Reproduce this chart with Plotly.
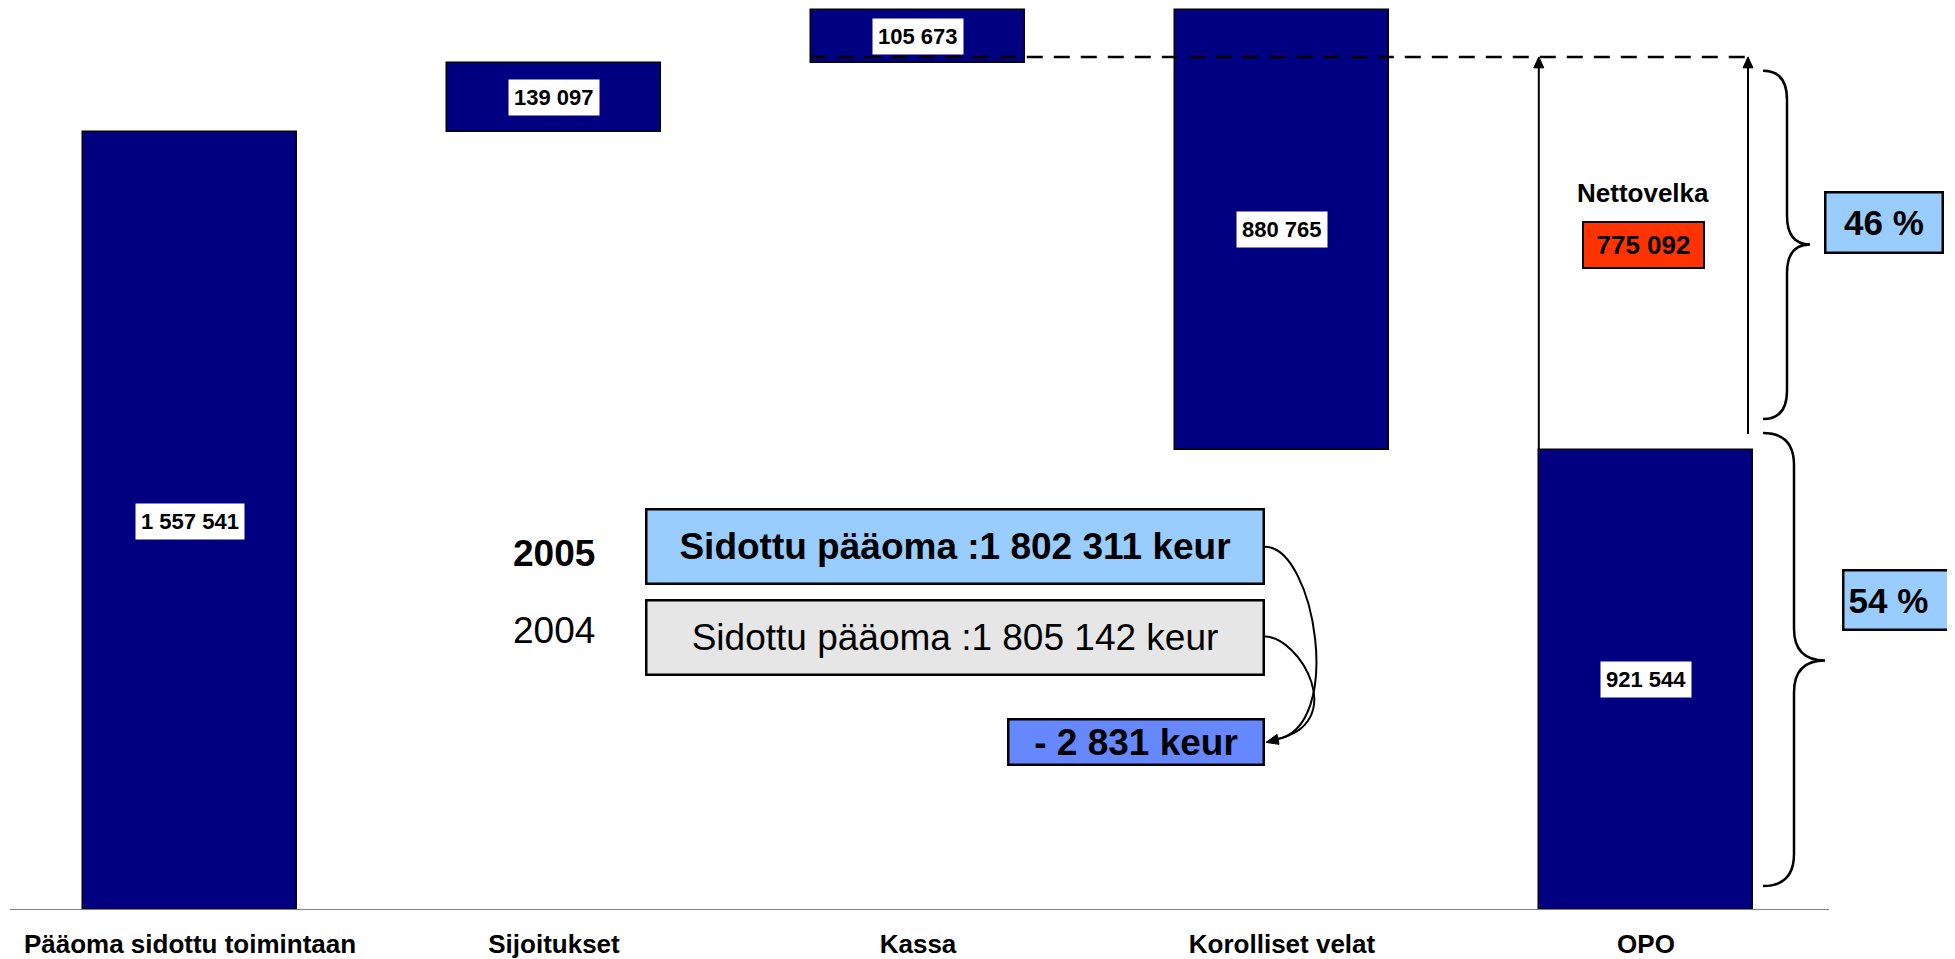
import plotly.graph_objects as go

# ---------------- data ----------------
categories = ["Pääoma sidottu toimintaan", "Sijoitukset", "Kassa", "Korolliset velat", "OPO"]
values = [1557541, 139097, 105673, 880765, 921544]
years = ["2005", "2004"]
sidottu_paaoma = [1802311, 1805142]

# ---------------- geometry / style ----------------
OFF = 8                      # default page (body) margin of the html page
W, H = 1955 - OFF, 959 - OFF
BASE_PX = 912                # page y of the baseline
TOP_PX = 10                  # page y of the top of the waterfall
ML, MR, MT = 0, 0, 0
MB = (OFF + H) - BASE_PX
PW, PH = W - ML - MR, BASE_PX - OFF - MT
CAT_PX = 364.0
BAR_W = 0.589
NAVY = "#000080"
FONT = "Liberation Sans, Arial, sans-serif"

total = values[0] + values[1] + values[2]
x_lo = -0.5
x_hi = x_lo + PW / CAT_PX
y_hi = total * PH / (BASE_PX - TOP_PX)


def X(px):
    return x_lo + (px - OFF - ML) / CAT_PX


def Y(py):
    return (BASE_PX - py) * y_hi / PH


def px_of_x(x):
    return OFF + ML + (x - x_lo) * CAT_PX


def fmt(v):
    return f"{abs(v):,}".replace(",", " ")


bases = [0, values[0], values[0] + values[1], total - values[3], 0]
mids = [b + v / 2 for b, v in zip(bases, values)]
xs = list(range(len(categories)))

nettovelka = values[3] - values[2]
opo = values[4]
pct_net = round(100 * nettovelka / (opo + nettovelka))
pct_opo = 100 - pct_net
diff = sidottu_paaoma[0] - sidottu_paaoma[1]

fig = go.Figure()
fig.add_trace(go.Bar(
    x=xs, y=values, base=bases, width=BAR_W,
    marker=dict(color=NAVY, line=dict(color="#000000", width=1.5)),
    hoverinfo="skip", showlegend=False,
))

shapes = []
annotations = []

# bar value labels (white boxes)
for x, m, v in zip(xs, mids, values):
    annotations.append(dict(
        x=x, y=m, xref="x", yref="y", text=fmt(v), showarrow=False,
        font=dict(family=FONT, size=22, color="black", weight="bold"),
        bgcolor="white", borderpad=5, xanchor="center", yanchor="middle",
    ))

# baseline
shapes.append(dict(type="line", xref="x", yref="y", x0=X(10), x1=X(1829), y0=0, y1=0,
                   line=dict(color="#808080", width=2), layer="above"))

# dashed guide line (level of net debt on top of OPO)
DASH_PX = 57
right_arrow_x = X(1748)
left_arrow_x = 4 - BAR_W / 2
shapes.append(dict(type="line", xref="x", yref="y", x0=2 - BAR_W / 2, x1=right_arrow_x,
                   y0=Y(DASH_PX), y1=Y(DASH_PX),
                   line=dict(color="black", width=2.5, dash="16px,11px")))

# vertical arrows
for ax, y_start in [(left_arrow_x, opo), (right_arrow_x, Y(435))]:
    shapes.append(dict(type="line", xref="x", yref="y", x0=ax, x1=ax, y0=y_start, y1=Y(DASH_PX + 8),
                       line=dict(color="black", width=2)))
    cx = px_of_x(ax)
    path = (f"M {X(cx)},{Y(DASH_PX)} L {X(cx - 5)},{Y(DASH_PX + 11)} "
            f"L {X(cx + 5)},{Y(DASH_PX + 11)} Z")
    shapes.append(dict(type="path", xref="x", yref="y", path=path, fillcolor="black",
                       line=dict(color="black", width=1)))


# braces
def brace(x0, xm, xt, y0, y1, ym, r):
    p = (f"M {X(x0)},{Y(y0)} Q {X(xm)},{Y(y0)} {X(xm)},{Y(y0 + r)} "
         f"L {X(xm)},{Y(ym - r)} Q {X(xm)},{Y(ym)} {X(xt)},{Y(ym)} "
         f"Q {X(xm)},{Y(ym)} {X(xm)},{Y(ym + r)} "
         f"L {X(xm)},{Y(y1 - r)} Q {X(xm)},{Y(y1)} {X(x0)},{Y(y1)}")
    return dict(type="path", xref="x", yref="y", path=p, line=dict(color="black", width=2.5))


shapes.append(brace(1763, 1787, 1810, 71, 420, 245, 29))
shapes.append(brace(1763, 1794, 1825, 434, 888, 662, 32))

# curved arrows from the Sidottu pääoma boxes to the difference box
shapes.append(dict(type="path", xref="x", yref="y", line=dict(color="black", width=2),
                   path=f"M {X(1265)},{Y(548)} C {X(1315)},{Y(548)} {X(1345)},{Y(730)} {X(1276)},{Y(741)}"))
shapes.append(dict(type="path", xref="x", yref="y", line=dict(color="black", width=2),
                   path=f"M {X(1265)},{Y(638)} C {X(1300)},{Y(638)} {X(1350)},{Y(725)} {X(1276)},{Y(741)}"))
shapes.append(dict(type="path", xref="x", yref="y", fillcolor="black", line=dict(color="black", width=1),
                   path=f"M {X(1266)},{Y(744)} L {X(1279)},{Y(746)} L {X(1277)},{Y(736)} Z"))


def box(cx, cy, w, h, text, bg, size, bold=True, border=2, pad=0, align="center", xanchor="center"):
    inner = 2 * (border + pad)
    return dict(x=X(cx), y=Y(cy), xref="x", yref="y", text=text, showarrow=False,
                width=w - inner, height=h - inner, bgcolor=bg, bordercolor="black",
                borderwidth=border, borderpad=pad, xanchor=xanchor, yanchor="middle", align=align,
                font=dict(family=FONT, size=size, color="black", weight="bold" if bold else "normal"))


def label(cx, cy, text, size, bold=True):
    return dict(x=X(cx), y=Y(cy), xref="x", yref="y", text=text, showarrow=False,
                xanchor="center", yanchor="middle",
                font=dict(family=FONT, size=size, color="black", weight="bold" if bold else "normal"))


annotations.append(label(554, 555, years[0], 37, True))
annotations.append(label(554, 632, years[1], 37, False))
annotations.append(box(954.5, 548, 620, 77, f"Sidottu pääoma :{fmt(sidottu_paaoma[0])} keur", "#99CCFF", 37, True, 2.5))
annotations.append(box(954.5, 639, 620, 77, f"Sidottu pääoma :{fmt(sidottu_paaoma[1])} keur", "#E6E6E6", 37, False, 2.5))
sign = "- " if diff < 0 else "+ "
annotations.append(box(1136, 744, 258, 48, f"{sign}{fmt(diff)} keur", "#6688FF", 37, True, 2.5))

annotations.append(label(1643, 193, "Nettovelka", 26, True))
annotations.append(box(1643, 245.5, 123, 48, fmt(nettovelka), "#FF3300", 26, True, 2))
annotations.append(box(1883.5, 223, 120, 63, f"{pct_net} %", "#99CCFF", 35, True, 2.5))
# this box runs off the right edge of the page in the original
annotations.append(box(1842, 601.5, 135, 62, f"{pct_opo} %", "#99CCFF", 35, True, 2.5, pad=4,
                       align="left", xanchor="left"))

fig.update_layout(
    width=W, height=H,
    margin=dict(l=ML, r=MR, t=MT, b=MB),
    paper_bgcolor="white", plot_bgcolor="white",
    showlegend=False,
    bargap=0,
    shapes=shapes,
    annotations=annotations,
    xaxis=dict(range=[x_lo, x_hi], tickvals=xs, ticktext=categories, showgrid=False,
               zeroline=False, showline=False, ticks="", ticklabelstandoff=16,
               tickfont=dict(family=FONT, size=26, color="black", weight="bold"), fixedrange=True),
    yaxis=dict(range=[0, y_hi], visible=False, showgrid=False, zeroline=False, fixedrange=True),
)

fig.write_html("out.html")
